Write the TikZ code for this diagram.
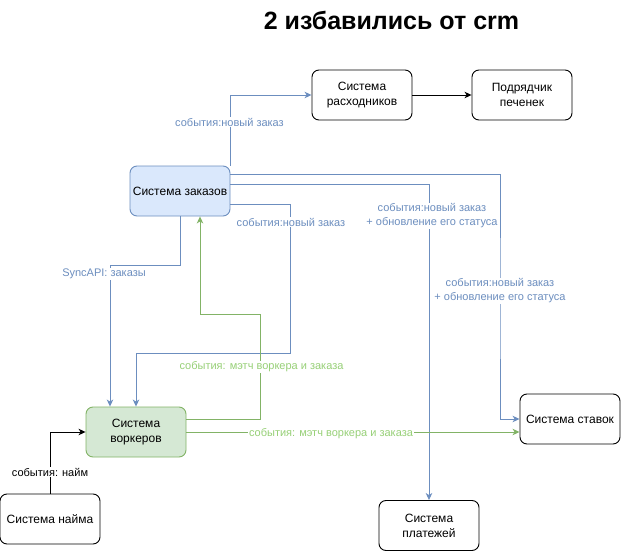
\documentclass[tikz,border=0pt]{standalone}
\usepackage{fontspec}
\setmainfont{Liberation Sans}
\usepackage{tikz}
\usetikzlibrary{arrows.meta}
\definecolor{edgeblue}{HTML}{6C8EBF}
\definecolor{fillblue}{HTML}{DAE8FC}
\definecolor{edgegreen}{HTML}{82B366}
\definecolor{fillgreen}{HTML}{D5E8D4}
\definecolor{textgreen}{HTML}{97D077}

\begin{document}
\begin{tikzpicture}[x=1pt,y=1pt,yscale=-1,xscale=1,
  sysbox/.style={draw=black,line width=0.9pt,rounded corners=7pt,minimum width=100pt,minimum height=50pt,align=center,font=\fontsize{12}{15}\selectfont,inner sep=1pt},
  flow/.style={line width=0.9pt,-{Stealth[length=7pt,width=6.5pt,inset=2pt]}},
  evtlabel/.style={fill=white,inner sep=0.75pt,align=center,font=\fontsize{11}{14}\selectfont}]
\useasboundingbox (0,0) rectangle (622,551);

% Text Node
\node (title) at (391.5,20) {\fontsize{25}{28}\selectfont\bfseries 2 избавились от crm};

%Shape: Rounded Rect
\node [sysbox,draw=edgeblue,fill=fillblue] (zak) at (180,191) {Система заказов};
%Shape: Rounded Rect
\node [sysbox] (rash) at (362,95) {Система\\расходников};
%Shape: Rounded Rect
\node [sysbox] (podr) at (522,95) {Подрядчик\\печенек};
%Shape: Rounded Rect
\node [sysbox,draw=edgegreen,fill=fillgreen] (vork) at (136,432) {Система\\воркеров};
%Shape: Rounded Rect
\node [sysbox] (naim) at (50,519) {Система найма};
%Shape: Rounded Rect
\node [sysbox] (stav) at (570,419) {Система ставок};
%Shape: Rounded Rect
\node [sysbox] (plat) at (429,525.5) {Система\\платежей};

% bend points
\coordinate (b3) at (500,300);
\coordinate (b5) at (290,353);
\coordinate (b6) at (110,265);
\coordinate (b7) at (260,314);

%Straight Lines
\draw [flow,edgeblue] (zak.north east) |- (rash.west);
%Straight Lines
\draw [flow] (rash) -- (podr);
%Straight Lines
\draw [flow,edgeblue] ([yshift=-17pt]zak.east) -| (b3) |- (stav.west);
%Straight Lines
\draw [flow,edgeblue] ([yshift=-7pt]zak.east) -| (plat.north);
%Straight Lines
\draw [flow,edgeblue] ([yshift=13pt]zak.east) -| (b5) -| (vork.north);
%Straight Lines
\draw [flow,edgeblue] (zak.south) |- (b6) -| ([xshift=-26pt]vork.north);
%Straight Lines
\draw [flow,edgegreen] ([yshift=-13pt]vork.east) -| (b7) -| ([xshift=20pt]zak.south);
%Straight Lines
\draw [flow,edgegreen] (vork.east) -- (vork.east -| stav.west);
%Straight Lines
\draw [flow] (naim.north) |- (vork.west);

% Text Node
\node [evtlabel,text=edgeblue] (l1) at (229.5,122) {события:новый заказ};
% Text Node
\node [evtlabel,text=edgeblue] (l3) at (500,291) {события:новый заказ\\+ обновление его статуса};
% Text Node
\node [evtlabel,text=edgeblue] (l4) at (432,216) {события:новый заказ\\+ обновление его статуса};
% Text Node
\node [evtlabel,text=edgeblue] (l5) at (291,222) {события:новый заказ};
% Text Node
\node [evtlabel,text=edgeblue] (l6) at (104,274) {SyncAPI: заказы};
% Text Node
\node [evtlabel,text=textgreen] (l7) at (261.5,367) {события: мэтч воркера и заказа};
% Text Node
\node [evtlabel,text=textgreen] (l8) at (331,434) {события: мэтч воркера и заказа};
% Text Node
\node [evtlabel] (l9) at (50,472) {события: найм};

\end{tikzpicture}
\end{document}
